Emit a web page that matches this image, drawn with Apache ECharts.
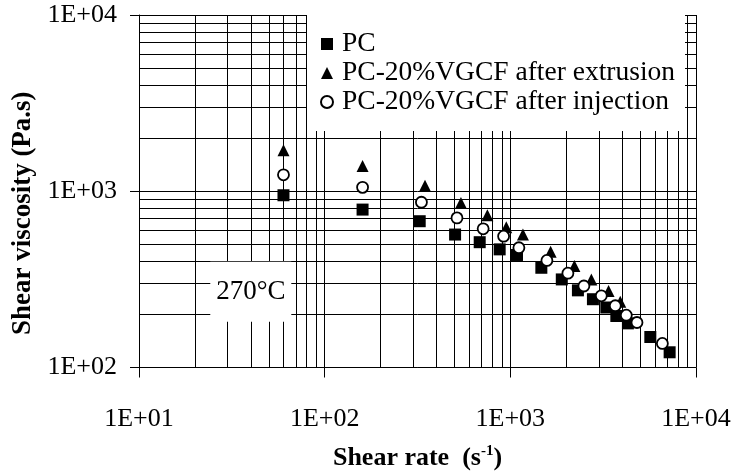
<!DOCTYPE html>
<html>
<head>
<meta charset="utf-8">
<script src="https://cdn.jsdelivr.net/npm/echarts@6/dist/echarts.min.js"></script>
<style>html,body{margin:0;padding:0;background:#fff}#c{width:735px;height:476px}</style>
</head>
<body>
<div id="c"></div>
<script>
// ---- data ----
const seriesNames = ['PC', 'PC-20%VGCF after extrusion', 'PC-20%VGCF after injection'];

const shearRatePC = [60, 160, 325, 504, 684, 876, 1086, 1469, 1893, 2312, 2785, 3289, 3723, 4298, 5675, 7211];
const viscPC      = [949, 787, 676, 568, 514, 468, 435, 368, 316, 274, 244, 219, 196, 178, 149, 122];

const shearRateExt = [60, 160, 347, 542, 752, 951, 1169, 1648, 2213, 2731, 3381, 3908];
const viscExt      = [1710, 1391, 1075, 859, 730, 625, 568, 453, 376, 316, 272, 236];

const shearRateInj = [60, 160, 332, 516, 714, 920, 1112, 1574, 2042, 2490, 3090, 3675, 4213, 4810, 6590];
const viscInj      = [1239, 1052, 866, 706, 612, 556, 478, 405, 343, 290, 255, 224, 198, 180, 137];

const xTickLabels = ['1E+01', '1E+02', '1E+03', '1E+04'];
const yTickLabels = ['1E+02', '1E+03', '1E+04'];
const xMinorGrid = [20,30,40,50,60,70,80,90,200,300,400,500,600,700,800,900,2000,3000,4000,5000,6000,7000,8000,9000];
const yMinorGrid = [200,300,400,500,600,700,800,900,2000,3000,4000,5000,6000,7000,8000,9000];
const annotationText = '270°C';
const annotationPos = [40, 269];

// ---- build ----
const zip = (a, b) => a.map((v, i) => [v, b[i]]);
const FONT = 'Liberation Serif';
const chart = echarts.init(document.getElementById('c'), null, {renderer: 'canvas'});

const minorLines = xMinorGrid.map(v => ({xAxis: v})).concat(yMinorGrid.map(v => ({yAxis: v})));

chart.setOption({
  animation: false,
  backgroundColor: '#fff',
  grid: {left: 139, right: 39, top: 15, bottom: 106, show: false},
  xAxis: {
    type: 'log', logBase: 10, min: 10, max: 10000,
    name: '{b|Shear rate  (s}{sup|-1}{b|)}',
    nameLocation: 'middle', nameGap: 76,
    nameTextStyle: {
      rich: {
        b: {fontFamily: FONT, fontWeight: 'bold', fontSize: 26, color: '#000'},
        sup: {fontFamily: FONT, fontWeight: 'bold', fontSize: 15, color: '#000', verticalAlign: 'top', padding: [0, 0, 14, 0]}
      }
    },
    axisLine: {show: true, lineStyle: {color: '#000', width: 1}},
    axisTick: {show: true, inside: false, length: 10, lineStyle: {color: '#000'}},
    axisLabel: {
      fontFamily: FONT, fontSize: 26, color: '#000', margin: 39,
      formatter: v => xTickLabels[Math.round(Math.log10(v)) - 1]
    },
    splitLine: {show: true, lineStyle: {color: '#000', width: 1}},
    minorTick: {show: false}, minorSplitLine: {show: false}
  },
  yAxis: {
    type: 'log', logBase: 10, min: 100, max: 10000,
    name: 'Shear viscosity (Pa.s)',
    nameLocation: 'middle', nameGap: 100,
    nameTextStyle: {fontFamily: FONT, fontWeight: 'bold', fontSize: 27, color: '#000', padding: [0, 44, 0, 0]},
    axisLine: {show: true, lineStyle: {color: '#000', width: 1}},
    axisTick: {show: true, inside: false, length: 9, lineStyle: {color: '#000'}},
    axisLabel: {
      fontFamily: FONT, fontSize: 26, color: '#000', margin: 22,
      formatter: v => yTickLabels[Math.round(Math.log10(v)) - 2]
    },
    splitLine: {show: true, lineStyle: {color: '#000', width: 1}}
  },
  legend: {
    data: seriesNames,
    orient: 'vertical',
    left: 307, top: 15,
    backgroundColor: '#fff',
    padding: [15, 10, 15, 13],
    itemGap: 1,
    itemWidth: 12, itemHeight: 12,
    textStyle: {fontFamily: FONT, fontSize: 27.5, color: '#000', padding: [0, 0, 0, 4]},
    z: 10
  },
  series: [
    {
      type: 'line', data: [], silent: true, z: 1,
      markLine: {
        silent: true, symbol: ['none', 'none'], label: {show: false},
        lineStyle: {color: '#000', width: 1, type: 'solid', opacity: 1},
        emphasis: {disabled: true},
        data: minorLines, animation: false
      }
    },
    {
      name: seriesNames[0], type: 'scatter', z: 3,
      symbol: 'rect', symbolSize: 12,
      itemStyle: {color: '#000', opacity: 1},
      data: zip(shearRatePC, viscPC)
    },
    {
      name: seriesNames[1], type: 'scatter', z: 4,
      symbol: 'triangle', symbolSize: [12, 12],
      itemStyle: {color: '#000', opacity: 1},
      data: zip(shearRateExt, viscExt)
    },
    {
      name: seriesNames[2], type: 'scatter', z: 5,
      symbol: 'circle', symbolSize: 11,
      itemStyle: {color: '#fff', borderColor: '#000', borderWidth: 1.8, opacity: 1},
      data: zip(shearRateInj, viscInj)
    },
    {
      type: 'scatter', z: 6, silent: true,
      symbol: 'rect', symbolSize: [81, 60],
      itemStyle: {color: '#fff', opacity: 1},
      label: {show: true, position: 'inside', formatter: annotationText,
              fontFamily: FONT, fontSize: 27, color: '#000'},
      data: [annotationPos]
    }
  ]
});
</script>
</body>
</html>
